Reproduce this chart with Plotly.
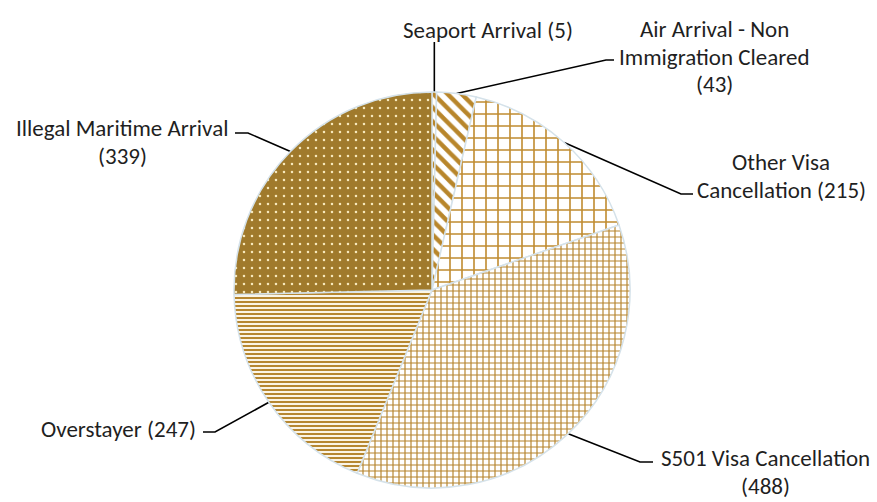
import math
import plotly.graph_objects as go

# ---- data ----
categories = ["Seaport Arrival", "Air Arrival - Non Immigration Cleared",
              "Other Visa Cancellation", "S501 Visa Cancellation",
              "Overstayer", "Illegal Maritime Arrival"]
values = [5, 43, 215, 488, 247, 339]
label_lines = [["Seaport Arrival"], ["Air Arrival - Non", "Immigration Cleared"],
               ["Other Visa", "Cancellation"], ["S501 Visa Cancellation"],
               ["Overstayer"], ["Illegal Maritime Arrival"]]
# whether the value goes on its own line
value_on_new_line = [False, True, False, True, False, True]

# ---- layout constants (pixels) ----
W, H = 877, 502
CX, CY, R = 432, 290, 198
FONT = "Carlito, Calibri, 'Open Sans', sans-serif"
FS = 23
LS = 27.5
TXT = "#1f1f1f"

# label block centres (x, y of first line) and leader elbow / tick points
label_pos = [(488, 30), (714, 29), (781, 162), (765, 458), (118, 429), (122, 128)]
elbow = [None, (606, 60), (681, 194), (640, 462), (215, 432), (248, 133)]
tick_end = [None, (614, 60), (693, 194), (653, 462), (203, 432), (235, 133)]
seaport_top = 42

shapes_p = ["\\", "\\", "+", "+", "-", "."]
fg = ["#B8862B", "#B8862B", "#C08C30", "#B5842C", "#B68731", "#F8E9BC"]
bg = ["#FFFFFF", "#FFFFFF", "#FFFFFF", "#FFFFFF", "#FBF5E6", "#A07A2C"]
psize = [10, 10, 12, 6, 4, 8]
solid = [0.45, 0.45, 0.25, 0.35, 0.5, 0.08]

fig = go.Figure()

fig.add_trace(go.Pie(
    labels=categories, values=values, sort=False, direction="clockwise",
    rotation=0, textinfo="none", hoverinfo="skip", showlegend=False,
    domain=dict(x=[(CX - R) / W, (CX + R) / W], y=[1 - (CY + R) / H, 1 - (CY - R) / H]),
    marker=dict(colors=bg, line=dict(color="#D5E2EA", width=1.5),
                pattern=dict(shape=shapes_p, fgcolor=fg, bgcolor=bg,
                             size=psize, solidity=solid, fillmode="replace")),
))

total = sum(values)
cum = 0
annotations = []
for i, v in enumerate(values):
    mid = (cum + v / 2) / total * 2 * math.pi
    cum += v
    ex = CX + R * math.sin(mid)
    ey = CY - R * math.cos(mid)
    if elbow[i] is None:
        xs, ys = [ex, ex], [ey, seaport_top]
    else:
        xs = [ex, elbow[i][0], tick_end[i][0]]
        ys = [ey, elbow[i][1], tick_end[i][1]]
    fig.add_trace(go.Scatter(x=xs, y=ys, mode="lines", line=dict(color="#000000", width=1.6),
                             hoverinfo="skip", showlegend=False))
    lines = list(label_lines[i])
    if value_on_new_line[i]:
        lines.append(f"({v})")
    else:
        lines[-1] = lines[-1] + f" ({v})"
    for k, t in enumerate(lines):
        annotations.append(dict(x=label_pos[i][0], y=label_pos[i][1] + k * LS, xref="x", yref="y",
                                text=t, showarrow=False, xanchor="center", yanchor="middle",
                                font=dict(family=FONT, size=FS, color=TXT)))

fig.update_layout(
    width=W, height=H, margin=dict(l=0, r=0, t=0, b=0),
    paper_bgcolor="white", plot_bgcolor="rgba(0,0,0,0)",
    xaxis=dict(range=[0, W], visible=False, fixedrange=True),
    yaxis=dict(range=[H, 0], visible=False, fixedrange=True),
    annotations=annotations,
)

fig.write_html("out.html", config={"displayModeBar": False},
               post_script="document.body.style.margin='0';document.body.style.overflow='hidden';")
